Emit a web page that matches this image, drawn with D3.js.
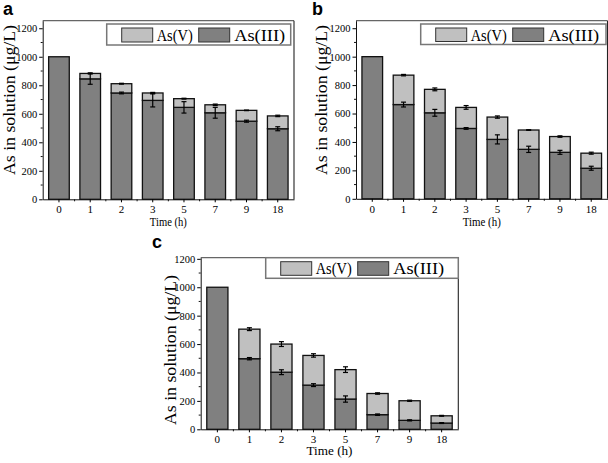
<!DOCTYPE html>
<html><head><meta charset="utf-8">
<script src="https://cdn.jsdelivr.net/npm/d3@7"></script>
<style>body{margin:0;background:#fff}svg{display:block}</style>
</head><body><svg id="chart" width="608" height="463"></svg>
<script>
// ---------- data ----------
const categories = ["0","1","2","3","5","7","9","18"];
const yTickValues = [0,200,400,600,800,1000,1200];
const seriesNames = ["As(V)","As(III)"];
const panelLabels = ["a","b","c"];

const asIII_a = [1000, 845, 746, 694, 645, 607, 548, 495];
const asV_a   = [0, 38, 65, 52, 61, 56, 76, 90];
const errIII_a = [0, 38, 6, 46, 40, 38, 7, 14];
const errV_a   = [0, 4, 3, 4, 3, 5, 2, 5];

const asIII_b = [1000, 663, 605, 495, 418, 348, 327, 215];
const asV_b   = [0, 207, 165, 148, 157, 136, 111, 106];
const errIII_b = [0, 17, 24, 6, 32, 22, 14, 14];
const errV_b   = [0, 5, 10, 13, 8, 2, 5, 7];

const asIII_c = [1000, 497, 402, 311, 213, 103, 63, 44];
const asV_c   = [0, 208, 198, 209, 207, 149, 138, 51];
const errIII_c = [0, 8, 17, 10, 22, 5, 4, 3];
const errV_c   = [0, 10, 17, 12, 20, 5, 4, 3];

// ---------- layout ----------
const layouts = [
  {left:42.7, right:294, top:20.7, bottom:199.3, yMax:1253, legend:{x:106.7,y:24,w:184,h:21}, lab:{x:3,y:15}, ytitleX:14.5, ytitleY:100, xtitleY:226, xtitleW:37},
  {left:356, right:607.5, top:20.7, bottom:198.8, yMax:1253, legend:{x:420.7,y:24,w:185.3,h:20.5}, lab:{x:312,y:15}, ytitleX:327, ytitleY:100, xtitleY:226, xtitleW:38},
  {left:200.7, right:458.3, top:257.7, bottom:429.3, yMax:1208, legend:{x:265.7,y:257.7,w:192.6,h:20.6}, lab:{x:152,y:248}, ytitleX:176, ytitleY:350, xtitleY:455, xtitleW:46}
];
const dataSets = [
  {asIII:asIII_a, asV:asV_a, errIII:errIII_a, errV:errV_a},
  {asIII:asIII_b, asV:asV_b, errIII:errIII_b, errV:errV_b},
  {asIII:asIII_c, asV:asV_c, errIII:errIII_c, errV:errV_c}
];
const colIII = "#808080", colV = "#c0c0c0";
const serif = "'Liberation Serif','Times New Roman',serif";

const svg = d3.select("#chart");

dataSets.forEach((ds, pi) => {
  const L = layouts[pi];
  const g = svg.append("g");
  const x = d3.scaleBand().domain(categories).range([L.left, L.right]).paddingInner(0.34).paddingOuter(0.19);
  const y = d3.scaleLinear().domain([0, L.yMax]).range([L.bottom, L.top]);

  const rows = categories.map((c, i) => ({c, iii: ds.asIII[i], v: ds.asV[i], eIII: ds.errIII[i], eV: ds.errV[i]}));

  // bars: As(III)
  g.selectAll(".b3").data(rows).join("rect")
    .attr("x", d => x(d.c)).attr("width", x.bandwidth())
    .attr("y", d => y(d.iii)).attr("height", d => y(0) - y(d.iii))
    .attr("fill", colIII).attr("stroke", "#111").attr("stroke-width", 1.3);
  // bars: As(V) stacked
  g.selectAll(".b5").data(rows.filter(d => d.v > 0)).join("rect")
    .attr("x", d => x(d.c)).attr("width", x.bandwidth())
    .attr("y", d => y(d.iii + d.v)).attr("height", d => y(d.iii) - y(d.iii + d.v))
    .attr("fill", colV).attr("stroke", "#111").attr("stroke-width", 1.3);

  // error bars
  const errs = [];
  rows.forEach(d => {
    if (d.eIII > 0) errs.push({c: d.c, val: d.iii, e: d.eIII});
    if (d.eV > 0) errs.push({c: d.c, val: d.iii + d.v, e: d.eV});
  });
  const cx = d => x(d.c) + x.bandwidth() / 2;
  const eg = g.selectAll(".err").data(errs).join("g");
  eg.append("line").attr("x1", cx).attr("x2", cx)
    .attr("y1", d => y(d.val - d.e)).attr("y2", d => y(d.val + d.e))
    .attr("stroke", "#000").attr("stroke-width", 1.2);
  eg.append("line").attr("x1", d => cx(d) - 2.5).attr("x2", d => cx(d) + 2.5)
    .attr("y1", d => y(d.val + d.e)).attr("y2", d => y(d.val + d.e))
    .attr("stroke", "#000").attr("stroke-width", 1.2);
  eg.append("line").attr("x1", d => cx(d) - 2.5).attr("x2", d => cx(d) + 2.5)
    .attr("y1", d => y(d.val - d.e)).attr("y2", d => y(d.val - d.e))
    .attr("stroke", "#000").attr("stroke-width", 1.2);

  // frame top/right
  g.append("line").attr("x1", L.left).attr("x2", L.right).attr("y1", L.top).attr("y2", L.top)
    .attr("stroke", "#666").attr("stroke-width", 1.3);
  g.append("line").attr("x1", L.right).attr("x2", L.right).attr("y1", L.top).attr("y2", L.bottom)
    .attr("stroke", "#222").attr("stroke-width", 1.1);

  // y axis
  const yAxis = d3.axisLeft(y).tickValues(yTickValues).tickFormat(d3.format("d")).tickSize(3.5).tickPadding(2).tickSizeOuter(0);
  const ya = g.append("g").attr("transform", `translate(${L.left},0)`).call(yAxis);
  ya.select(".domain").attr("stroke", "#111");
  ya.selectAll("text").attr("font-family", serif).attr("font-size", 10.5).attr("fill", "#000");
  const yMinor = d3.range(100, 1300, 200).filter(v => v < L.yMax);
  g.selectAll(".ymin").data(yMinor).join("line")
    .attr("x1", L.left - 2).attr("x2", L.left).attr("y1", d => y(d)).attr("y2", d => y(d)).attr("stroke", "#111");

  // x axis
  const xAxis = d3.axisBottom(x).tickSize(3).tickPadding(3).tickSizeOuter(0);
  const xa = g.append("g").attr("transform", `translate(0,${L.bottom})`).call(xAxis);
  xa.select(".domain").attr("stroke", "#111");
  xa.selectAll("text").attr("font-family", serif).attr("font-size", 11).attr("fill", "#000");
  const xMinor = categories.slice(1).map(c => x(c) - x.step() * x.paddingInner() / 2);
  g.selectAll(".xmin").data(xMinor).join("line")
    .attr("x1", d => d).attr("x2", d => d).attr("y1", L.bottom).attr("y2", L.bottom + 2).attr("stroke", "#111");

  // axis titles
  g.append("text").attr("transform", `translate(${L.ytitleX},${L.ytitleY}) rotate(-90)`)
    .attr("text-anchor", "middle").attr("font-family", serif).attr("font-size", 16)
    .attr("textLength", 150).attr("lengthAdjust", "spacingAndGlyphs").text("As in solution (μg/L)");
  g.append("text").attr("x", (L.left + L.right) / 2).attr("y", L.xtitleY)
    .attr("text-anchor", "middle").attr("font-family", serif).attr("font-size", 12.5)
    .attr("textLength", L.xtitleW).attr("lengthAdjust", "spacingAndGlyphs").text("Time (h)");

  // panel label
  g.append("text").attr("x", L.lab.x).attr("y", L.lab.y).attr("font-family", "'Liberation Sans',Arial,sans-serif")
    .attr("font-weight", "bold").attr("font-size", 18).text(panelLabels[pi]);

  // legend
  const lg = g.append("g").attr("transform", `translate(${L.legend.x},${L.legend.y})`);
  lg.append("rect").attr("width", L.legend.w).attr("height", L.legend.h).attr("fill", "#fff")
    .attr("stroke", "#777").attr("stroke-width", 1.5);
  const items = [{name: seriesNames[0], col: colV, sx: 15, tx: 50, tw: 36}, {name: seriesNames[1], col: colIII, sx: 92, tx: 127.5, tw: 51}];
  items.forEach(it => {
    lg.append("rect").attr("x", it.sx).attr("y", 4).attr("width", 31).attr("height", L.legend.h - 7)
      .attr("fill", it.col).attr("stroke", "#333").attr("stroke-width", 1);
    lg.append("text").attr("x", it.tx).attr("y", L.legend.h - 4).attr("font-family", serif)
      .attr("font-size", 16).attr("textLength", it.tw).attr("lengthAdjust", "spacingAndGlyphs").text(it.name);
  });
});
</script></body></html>
